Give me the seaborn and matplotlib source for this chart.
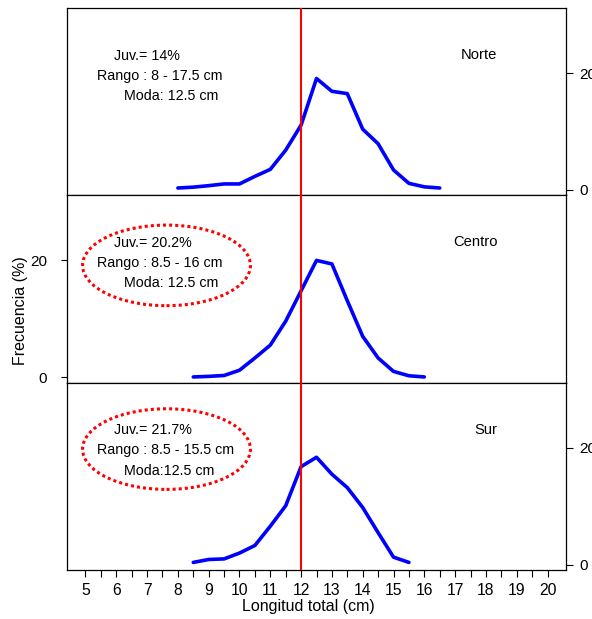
import matplotlib
matplotlib.use("Agg")
import numpy as np
import pandas as pd
import matplotlib.pyplot as plt
import seaborn as sns
from matplotlib.patches import Ellipse

# Distribución de tallas por zona: longitud total (cm) y frecuencia (%)
talla_norte = [8.0, 8.5, 9.0, 9.5, 10.0, 10.5, 11.0, 11.5, 12.0, 12.5, 13.0, 13.5,
               14.0, 14.5, 15.0, 15.5, 16.0, 16.5]
frec_norte = [0.3, 0.45, 0.7, 1.0, 1.0, 2.3, 3.5, 6.8, 11.1, 19.1, 16.9, 16.5,
              10.4, 7.9, 3.4, 1.1, 0.5, 0.3]

talla_centro = [8.5, 9.0, 9.5, 10.0, 10.5, 11.0, 11.5, 12.0, 12.5, 13.0, 13.5,
                14.0, 14.5, 15.0, 15.5, 16.0]
frec_centro = [0.05, 0.15, 0.3, 1.2, 3.3, 5.5, 9.6, 14.8, 20.0, 19.4, 13.1,
               7.0, 3.3, 1.0, 0.25, 0.05]

talla_sur = [8.5, 9.0, 9.5, 10.0, 10.5, 11.0, 11.5, 12.0, 12.5, 13.0, 13.5,
             14.0, 14.5, 15.0, 15.5]
frec_sur = [0.4, 0.9, 1.0, 2.0, 3.3, 6.6, 10.1, 16.8, 18.4, 15.5, 13.2,
            9.8, 5.5, 1.3, 0.4]

zonas = ["Norte", "Centro", "Sur"]
resumen = [
    ["Juv.= 14%", "Rango : 8 - 17.5 cm", "Moda: 12.5 cm"],
    ["Juv.= 20.2%", "Rango : 8.5 - 16 cm", "Moda: 12.5 cm"],
    ["Juv.= 21.7%", "Rango : 8.5 - 15.5 cm", "Moda:12.5 cm"],
]
talla_referencia = 12

sns.set_style("ticks")
plt.rcParams["font.family"] = ["Liberation Sans", "DejaVu Sans"]
plt.rcParams.update({"text.color": "black", "axes.labelcolor": "black",
                     "xtick.color": "black", "ytick.color": "black",
                     "xtick.labelcolor": "black", "ytick.labelcolor": "black"})

W, H = 592, 619
fig = plt.figure(figsize=(W / 100, H / 100), dpi=100)

left_px, right_px = 67, 566
tops = [8, 195, 382.5]
bottoms = [195, 382.5, 570]

datos = [(talla_norte, frec_norte), (talla_centro, frec_centro), (talla_sur, frec_sur)]
marcas = np.arange(5, 20.01, 0.5)
for i, ((tx, fy), zona) in enumerate(zip(datos, zonas)):
    ax = fig.add_axes([left_px / W, 1 - bottoms[i] / H,
                       (right_px - left_px) / W, (bottoms[i] - tops[i]) / H])
    df = pd.DataFrame({"talla": tx, "frecuencia": fy})
    sns.lineplot(data=df, x="talla", y="frecuencia", ax=ax, color="#0000FF",
                 linewidth=2.6, legend=False)
    ax.axvline(talla_referencia, color="#FF0000", linewidth=1.5, zorder=3)
    ax.set_xlim(4.4, 20.6)
    ax.set_ylim(-0.9, 31.2)
    ax.set_xlabel("")
    ax.set_ylabel("")
    for s in ax.spines.values():
        s.set_visible(True)
        s.set_color("black")
        s.set_linewidth(0.9)
    ax.set_yticks([0, 20])
    ax.set_yticklabels(["0", "20"])
    if i == 1:
        ax.yaxis.tick_left()
        ax.tick_params(axis="y", length=4.5, width=0.8, pad=10, labelsize=11)
    else:
        ax.yaxis.tick_right()
        ax.tick_params(axis="y", length=5, width=0.8, pad=4.5, labelsize=11)

    # texto resumen de cada zona
    ax.text(5.93, 23.0, resumen[i][0], fontsize=10.3, va="center", ha="left")
    ax.text(5.38, 19.6, resumen[i][1], fontsize=10.3, va="center", ha="left")
    ax.text(6.25, 16.1, resumen[i][2], fontsize=10.3, va="center", ha="left")
    ax.text(18.38, 23.1, zona, fontsize=10.6, va="center", ha="right")

    if i > 0:
        yc = 19.15 if i == 1 else 19.8
        ax.add_patch(Ellipse((7.63, yc), 5.45, 13.8, fill=False, edgecolor="#FF0000",
                             linewidth=2.2, linestyle=(0, (1, 1)), zorder=4))

    ax.set_xticks(marcas)
    if i < 2:
        ax.tick_params(axis="x", length=0, labelbottom=False)
    else:
        ax.set_xticklabels([str(int(v)) if v == int(v) else "" for v in marcas])
        ax.tick_params(axis="x", length=5, width=0.8, pad=4.5, labelsize=11.3)

fig.text(308 / W, 1 - 607 / H, "Longitud total (cm)", fontsize=11.5, ha="center", va="center")
fig.text(21 / W, 1 - 311 / H, "Frecuencia (%)", fontsize=11.5, ha="center", va="center",
         rotation=90)

fig.savefig("out.png", dpi=100, facecolor="white")
